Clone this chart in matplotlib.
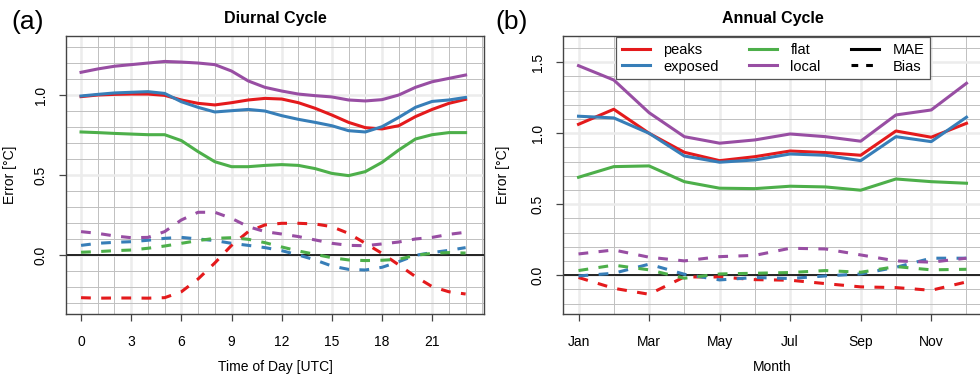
import matplotlib
matplotlib.use("Agg")
import matplotlib.pyplot as plt
from matplotlib.lines import Line2D
from matplotlib.ticker import MultipleLocator

plt.rcParams['font.family'] = ['Liberation Sans', 'DejaVu Sans']

# Farben (Set1)
col_peaks, col_exposed, col_flat, col_local = '#E41A1C', '#377EB8', '#4DAF4A', '#984EA3'

# Tagesgang
hours = list(range(24))
peaks_mae_d = [0.99, 1.00, 1.004, 1.006, 1.006, 0.998, 0.969, 0.948, 0.938, 0.952, 0.969, 0.979,
               0.975, 0.952, 0.917, 0.875, 0.829, 0.796, 0.788, 0.808, 0.865, 0.91, 0.948, 0.973]
exposed_mae_d = [0.994, 1.004, 1.013, 1.017, 1.021, 1.01, 0.958, 0.923, 0.894, 0.902, 0.91, 0.90,
                 0.871, 0.848, 0.829, 0.808, 0.777, 0.769, 0.802, 0.86, 0.923, 0.96, 0.969, 0.985]
flat_mae_d = [0.769, 0.765, 0.76, 0.756, 0.752, 0.752, 0.715, 0.646, 0.583, 0.552, 0.552, 0.56,
              0.565, 0.56, 0.54, 0.51, 0.496, 0.521, 0.579, 0.656, 0.725, 0.752, 0.765, 0.765]
local_mae_d = [1.142, 1.163, 1.18, 1.19, 1.20, 1.21, 1.206, 1.20, 1.19, 1.15, 1.088, 1.048,
               1.025, 1.006, 0.996, 0.988, 0.969, 0.963, 0.971, 1.0, 1.048, 1.083, 1.104, 1.125]
peaks_bias_d = [-0.267, -0.27, -0.269, -0.269, -0.27, -0.267, -0.23, -0.15, -0.05, 0.06, 0.146, 0.188,
                0.198, 0.198, 0.194, 0.177, 0.135, 0.073, 0.01, -0.062, -0.135, -0.198, -0.23, -0.244]
exposed_bias_d = [0.06, 0.073, 0.079, 0.083, 0.092, 0.104, 0.11, 0.1, 0.09, 0.073, 0.06, 0.046,
                  0.027, 0.0, -0.031, -0.069, -0.09, -0.094, -0.077, -0.042, -0.002, 0.015, 0.029, 0.046]
flat_bias_d = [0.017, 0.021, 0.027, 0.031, 0.042, 0.056, 0.073, 0.09, 0.104, 0.108, 0.098, 0.077,
               0.05, 0.025, 0.004, -0.017, -0.031, -0.035, -0.033, -0.027, -0.002, 0.01, 0.015, 0.012]
local_bias_d = [0.146, 0.135, 0.119, 0.108, 0.11, 0.146, 0.219, 0.267, 0.267, 0.229, 0.177, 0.146,
                0.131, 0.115, 0.094, 0.073, 0.06, 0.058, 0.069, 0.081, 0.1, 0.11, 0.129, 0.142]

# Jahresgang
months = list(range(1, 13))
month_labels = ['Jan', 'Mar', 'May', 'Jul', 'Sep', 'Nov']
peaks_mae_a = [1.063, 1.169, 1.0, 0.866, 0.807, 0.835, 0.875, 0.864, 0.845, 1.016, 0.972, 1.070]
exposed_mae_a = [1.12, 1.108, 1.0, 0.84, 0.796, 0.812, 0.854, 0.845, 0.807, 0.976, 0.941, 1.113]
flat_mae_a = [0.69, 0.765, 0.77, 0.659, 0.613, 0.61, 0.627, 0.622, 0.599, 0.678, 0.659, 0.648]
local_mae_a = [1.476, 1.375, 1.145, 0.976, 0.93, 0.953, 0.995, 0.976, 0.944, 1.129, 1.164, 1.352]
peaks_bias_a = [-0.016, -0.092, -0.134, -0.012, -0.012, -0.031, -0.035, -0.059, -0.082, -0.087, -0.106, -0.047]
exposed_bias_a = [-0.005, 0.014, 0.078, 0.007, -0.033, -0.016, -0.023, -0.005, 0.009, 0.056, 0.12, 0.12]
flat_bias_a = [0.033, 0.071, 0.038, -0.021, 0.009, 0.014, 0.019, 0.033, 0.021, 0.061, 0.038, 0.042]
local_bias_a = [0.15, 0.178, 0.127, 0.101, 0.131, 0.14, 0.19, 0.185, 0.143, 0.101, 0.092, 0.12]

dash = (0, (3.2, 3.4))
lw = 2.2
fs = 10


def style_axes(ax, xminor, ymajor):
    # Gitter: helle breite Linien auf den Haupt-Ticks, duenne graue Linien ueberall
    ax.xaxis.set_minor_locator(MultipleLocator(xminor))
    ax.yaxis.set_minor_locator(MultipleLocator(0.1))
    ax.grid(True, which='major', color='#ececec', linewidth=1.8, zorder=0)
    ax.grid(True, which='minor', color='#c0c0c0', linewidth=0.7, zorder=0)
    ax.set_axisbelow(True)
    ax.tick_params(which='minor', length=0)
    ax.tick_params(which='major', length=5, width=0.9, color='#444444', labelsize=fs)
    ax.tick_params(axis='x', pad=10)
    ax.tick_params(axis='y', pad=8)
    ax.yaxis.set_major_locator(MultipleLocator(ymajor))
    for lab in ax.get_yticklabels():
        lab.set_rotation(90)
        lab.set_va('center')
    for s in ax.spines.values():
        s.set_color('#444444')
        s.set_linewidth(1.0)
    ax.axhline(0, color='black', linewidth=1.2, zorder=2)


fig = plt.figure(figsize=(9.8, 3.74), dpi=100)

# (a) Tagesgang
ax1 = fig.add_axes([66 / 980, 60 / 374, 418 / 980, 278 / 374])
ax1.plot(hours, peaks_mae_d, color=col_peaks, lw=lw, zorder=3)
ax1.plot(hours, exposed_mae_d, color=col_exposed, lw=lw, zorder=3)
ax1.plot(hours, flat_mae_d, color=col_flat, lw=lw, zorder=3)
ax1.plot(hours, local_mae_d, color=col_local, lw=lw, zorder=3)
ax1.plot(hours, peaks_bias_d, color=col_peaks, lw=lw, ls=dash, zorder=3)
ax1.plot(hours, exposed_bias_d, color=col_exposed, lw=lw, ls=dash, zorder=3)
ax1.plot(hours, flat_bias_d, color=col_flat, lw=lw, ls=dash, zorder=3)
ax1.plot(hours, local_bias_d, color=col_local, lw=lw, ls=dash, zorder=3)
ax1.set_xlim(-0.9, 24.1)
ax1.set_ylim(-0.369, 1.369)
ax1.set_xticks(range(0, 24, 3))
style_axes(ax1, 1, 0.5)
ax1.set_xlabel('Time of Day [UTC]', fontsize=fs, labelpad=8)
ax1.set_ylabel('Error [°C]', fontsize=fs)
ax1.yaxis.set_label_coords(-49 / 418, 0.5)
ax1.set_title('Diurnal Cycle', fontsize=11.5, fontweight='bold', pad=9)

# (b) Jahresgang
ax2 = fig.add_axes([563 / 980, 60 / 374, 419 / 980, 278 / 374])
ax2.plot(months, peaks_mae_a, color=col_peaks, lw=lw, zorder=3)
ax2.plot(months, exposed_mae_a, color=col_exposed, lw=lw, zorder=3)
ax2.plot(months, flat_mae_a, color=col_flat, lw=lw, zorder=3)
ax2.plot(months, local_mae_a, color=col_local, lw=lw, zorder=3)
ax2.plot(months, peaks_bias_a, color=col_peaks, lw=lw, ls=dash, zorder=3)
ax2.plot(months, exposed_bias_a, color=col_exposed, lw=lw, ls=dash, zorder=3)
ax2.plot(months, flat_bias_a, color=col_flat, lw=lw, ls=dash, zorder=3)
ax2.plot(months, local_bias_a, color=col_local, lw=lw, ls=dash, zorder=3)
ax2.set_xlim(0.56, 12.44)
ax2.set_ylim(-0.273, 1.685)
ax2.set_xticks(months[::2])
ax2.set_xticklabels(month_labels)
style_axes(ax2, 1, 0.5)
ax2.set_xlabel('Month', fontsize=fs, labelpad=8)
ax2.set_ylabel('Error [°C]', fontsize=fs)
ax2.yaxis.set_label_coords(-53 / 419, 0.5)
ax2.set_title('Annual Cycle', fontsize=11.5, fontweight='bold', pad=9)

handles = [Line2D([], [], color=col_peaks, lw=lw),
           Line2D([], [], color=col_exposed, lw=lw),
           Line2D([], [], color=col_flat, lw=lw),
           Line2D([], [], color=col_local, lw=lw),
           Line2D([], [], color='black', lw=lw),
           Line2D([], [], color='black', lw=lw, ls=(0, (2.2, 2.6)))]
labels = ['peaks', 'exposed', 'flat', 'local', 'MAE', 'Bias']
leg = ax2.legend(handles, labels, ncol=3, loc='upper left', mode='expand',
                 bbox_to_anchor=(53 / 419, 0.817, 314 / 419, 0.18), borderaxespad=0,
                 fontsize=10.5, handlelength=1.95, handletextpad=0.9, labelspacing=0.2,
                 fancybox=False, framealpha=1, edgecolor='#555555')
leg.get_frame().set_linewidth(0.9)
leg.set_zorder(5)

fig.text(0.012, 0.94, '(a)', fontsize=19, va='center')
fig.text(0.505, 0.94, '(b)', fontsize=19, va='center')

fig.savefig('out.png', dpi=100)
